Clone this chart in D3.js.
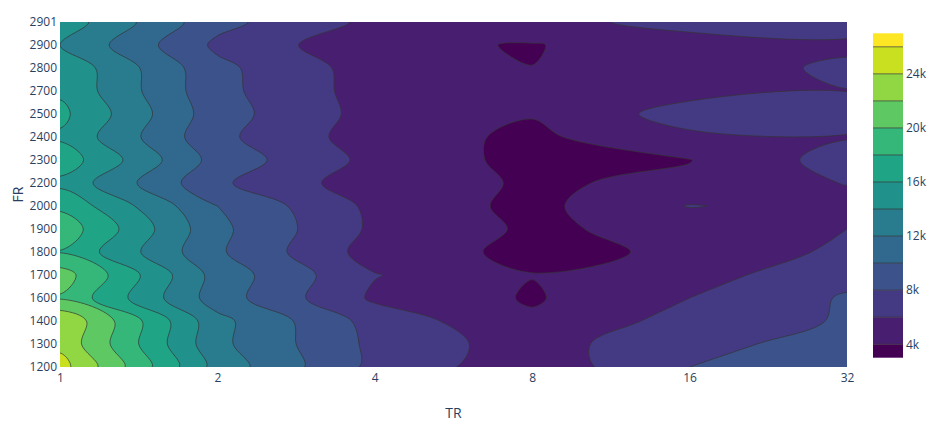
<!DOCTYPE html>
<html>
<head>
<meta charset="utf-8">
<script src="https://cdn.jsdelivr.net/npm/d3@7"></script>
<style>
  body { margin: 0; background: #fff; }
  text { font-family: "Open Sans", sans-serif; fill: #2a3f5f; }
</style>
</head>
<body>
<svg id="chart" width="934" height="426"></svg>
<script>
// Categories
const TR = ["1", "2", "4", "8", "16", "32"];
const FR = ["1200", "1300", "1400", "1600", "1700", "1800", "1900", "2000",
  "2200", "2300", "2400", "2500", "2700", "2800", "2900", "2901"];

// z values, one row per FR, one column per TR
const zFR1200 = [24800, 13200, 7430, 4680, 8000, 8600];
const zFR1300 = [23500, 12500, 7500, 5000, 7700, 8400];
const zFR1400 = [23900, 12600, 7200, 4300, 6760, 8200];
const zFR1600 = [19800, 11000, 5660, 3800, 6000, 8200];
const zFR1700 = [21000, 11200, 6100, 4050, 5200, 7400];
const zFR1800 = [17900, 10300, 5100, 3500, 4300, 6500];
const zFR1900 = [19300, 10500, 5600, 3700, 4600, 6000];
const zFR2000 = [17600, 10000, 5500, 3450, 6100, 5200];
const zFR2200 = [15500, 8350, 4800, 3820, 4300, 6100];
const zFR2300 = [17200, 9200, 5400, 3400, 3950, 6880];
const zFR2400 = [15700, 8500, 4970, 3610, 5600, 5870];
const zFR2500 = [16500, 8850, 5230, 4110, 6900, 7100];
const zFR2700 = [15700, 8580, 5110, 4500, 5300, 5970];
const zFR2800 = [15600, 8500, 5060, 4020, 5300, 6270];
const zFR2900 = [14000, 7600, 4500, 3860, 5500, 5700];
const zFR2901 = [15200, 8600, 5500, 5600, 6400, 6800];

const Z = [zFR1200, zFR1300, zFR1400, zFR1600, zFR1700, zFR1800, zFR1900, zFR2000,
  zFR2200, zFR2300, zFR2400, zFR2500, zFR2700, zFR2800, zFR2900, zFR2901];

// Contour levels and colorbar ticks
const LEVEL_START = 4000;
const LEVEL_END = 26000;
const LEVEL_SIZE = 2000;
const CBAR_TICKS = [4000, 8000, 12000, 16000, 20000, 24000];

const svg = d3.select("#chart");
const plot = { left: 60, right: 847, top: 22, bottom: 367 };
const lineColor = "#333";
const lineWidth = 0.7;

const xScale = d3.scalePoint().domain(TR).range([plot.left, plot.right]);
const yScale = d3.scalePoint().domain(FR).range([plot.bottom, plot.top]);

// d3.contours puts value (i, j) at grid point (i + 0.5, j + 0.5)
const gx = d3.scaleLinear().domain([0.5, TR.length - 0.5]).range([plot.left, plot.right]);
const gy = d3.scaleLinear().domain([0.5, FR.length - 0.5]).range([plot.bottom, plot.top]);

const levels = d3.range(LEVEL_START, LEVEL_END + 1, LEVEL_SIZE);
const bandColor = (k) => d3.interpolateViridis(k / levels.length);

const bands = d3.contours()
  .size([TR.length, FR.length])
  .thresholds(levels)(Z.flat());

// Smooth the marching-squares rings, like plotly's contour smoothing
const ringLine = d3.line()
  .x((p) => gx(p[0]))
  .y((p) => gy(p[1]))
  .curve(d3.curveCatmullRomClosed.alpha(0.5));

function bandPath(geom) {
  return geom.coordinates
    .map((poly) => poly.map((ring) => ringLine(ring.slice(0, -1))).join(""))
    .join("");
}

svg.append("defs")
  .append("clipPath")
  .attr("id", "plot-clip")
  .append("rect")
  .attr("x", plot.left)
  .attr("y", plot.top)
  .attr("width", plot.right - plot.left)
  .attr("height", plot.bottom - plot.top);

const g = svg.append("g").attr("clip-path", "url(#plot-clip)");

// Lowest band underneath everything
g.append("rect")
  .attr("x", plot.left)
  .attr("y", plot.top)
  .attr("width", plot.right - plot.left)
  .attr("height", plot.bottom - plot.top)
  .attr("fill", bandColor(0));

g.selectAll(".band")
  .data(bands)
  .join("path")
  .attr("class", "band")
  .attr("d", bandPath)
  .attr("fill-rule", "evenodd")
  .attr("fill", (d, i) => bandColor(i + 1));

g.selectAll(".level")
  .data(bands)
  .join("path")
  .attr("class", "level")
  .attr("d", bandPath)
  .attr("fill", "none")
  .attr("stroke", lineColor)
  .attr("stroke-width", lineWidth);

// X axis
const xAxis = svg.append("g")
  .attr("transform", "translate(0," + plot.bottom + ")")
  .call(d3.axisBottom(xScale).tickSize(0).tickPadding(6.5));
xAxis.select(".domain").remove();
xAxis.selectAll("text").style("font-size", "12px").style("fill", "#2a3f5f");

// Y axis
const yAxis = svg.append("g")
  .attr("transform", "translate(" + plot.left + ",0)")
  .call(d3.axisLeft(yScale).tickSize(0).tickPadding(3));
yAxis.select(".domain").remove();
yAxis.selectAll("text").style("font-size", "12px").style("fill", "#2a3f5f");

// Axis titles
svg.append("text")
  .attr("x", (plot.left + plot.right) / 2)
  .attr("y", 418)
  .attr("text-anchor", "middle")
  .style("font-size", "14px")
  .text("TR");

svg.append("text")
  .attr("text-anchor", "middle")
  .attr("transform", "translate(22.5," + (plot.top + plot.bottom) / 2 + ")rotate(-90)")
  .style("font-size", "14px")
  .text("FR");

// Colorbar
const cbar = { left: 873, width: 30, top: 33.3, bottom: 357.7 };
const cScale = d3.scaleLinear()
  .domain([LEVEL_START - LEVEL_SIZE / 2, LEVEL_END + LEVEL_SIZE / 2])
  .range([cbar.bottom, cbar.top]);
const edges = [cScale.domain()[0]].concat(levels, [cScale.domain()[1]]);
const cbarBands = d3.pairs(edges);

svg.append("g")
  .selectAll("rect")
  .data(cbarBands)
  .join("rect")
  .attr("x", cbar.left)
  .attr("width", cbar.width)
  .attr("y", (d) => cScale(d[1]))
  .attr("height", (d) => cScale(d[0]) - cScale(d[1]))
  .attr("fill", (d, i) => bandColor(i));

svg.append("g")
  .selectAll("line")
  .data(levels)
  .join("line")
  .attr("x1", cbar.left)
  .attr("x2", cbar.left + cbar.width)
  .attr("y1", (d) => cScale(d))
  .attr("y2", (d) => cScale(d))
  .attr("stroke", lineColor)
  .attr("stroke-width", lineWidth);

const cAxis = svg.append("g")
  .attr("transform", "translate(" + (cbar.left + cbar.width) + ",0)")
  .call(d3.axisRight(cScale).tickValues(CBAR_TICKS).tickFormat(d3.format("~s")).tickSize(0).tickPadding(3));
cAxis.select(".domain").remove();
cAxis.selectAll("text").style("font-size", "12px").style("fill", "#2a3f5f");
</script>
</body>
</html>
